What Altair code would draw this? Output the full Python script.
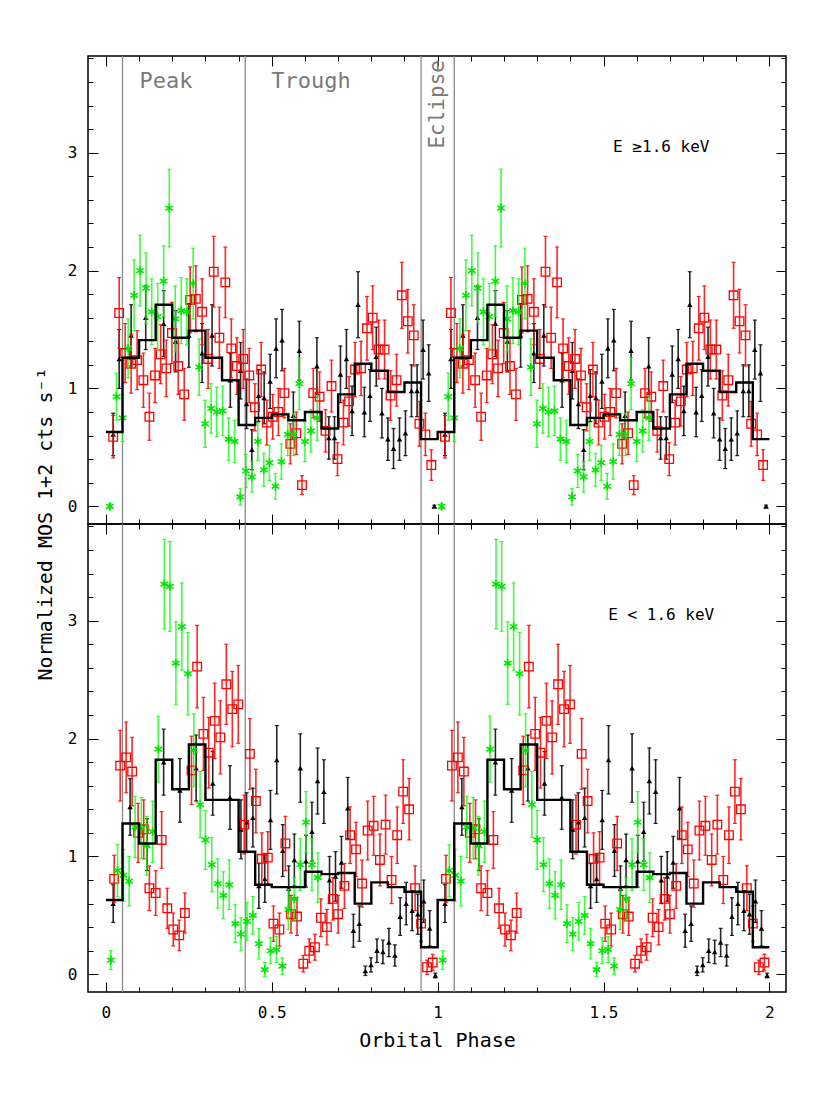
import altair as alt
import numpy as np
import pandas as pd

FONT = "DejaVu Sans Mono"

# ---------------- data (phase 0-1; plotted again at phase + 1) ----------------
# Top panel: E >= 1.6 keV
top_black_phase = [0.022, 0.040, 0.076, 0.120, 0.174, 0.210, 0.250, 0.290, 0.320, 0.375,
                   0.406, 0.424, 0.440, 0.460, 0.477, 0.495, 0.513, 0.531, 0.565, 0.583,
                   0.636, 0.672, 0.689, 0.707, 0.725, 0.742, 0.760, 0.779, 0.796, 0.815,
                   0.832, 0.850, 0.867, 0.885, 0.903, 0.921, 0.938, 0.956, 0.973, 0.990]
top_black_rate = [0.61, 1.25, 1.45, 1.60, 1.55, 1.40, 1.45, 1.30, 1.45, 1.07,
                  1.15, 0.87, 0.48, 0.94, 0.92, 1.06, 1.34, 1.41, 0.77, 1.32,
                  1.19, 0.58, 0.58, 1.12, 1.25, 0.81, 1.71, 0.80, 0.94, 1.27,
                  0.79, 0.57, 0.49, 0.57, 0.62, 0.98, 0.98, 1.33, 1.13, 0.00]
top_black_err = [0.18, 0.25, 0.26, 0.27, 0.28, 0.26, 0.27, 0.25, 0.26, 0.23,
                 0.24, 0.21, 0.17, 0.22, 0.22, 0.23, 0.25, 0.26, 0.20, 0.25,
                 0.24, 0.18, 0.18, 0.24, 0.25, 0.21, 0.28, 0.21, 0.22, 0.25,
                 0.21, 0.18, 0.17, 0.18, 0.19, 0.22, 0.22, 0.25, 0.24, 0.01]

top_red_phase = [0.022, 0.040, 0.058, 0.076, 0.094, 0.113, 0.131, 0.148, 0.165, 0.182,
                 0.199, 0.218, 0.236, 0.254, 0.271, 0.290, 0.308, 0.325, 0.342, 0.360,
                 0.378, 0.395, 0.414, 0.432, 0.449, 0.468, 0.485, 0.503, 0.520, 0.538,
                 0.556, 0.574, 0.591, 0.625, 0.644, 0.662, 0.680, 0.698, 0.716, 0.733,
                 0.751, 0.769, 0.787, 0.804, 0.822, 0.840, 0.858, 0.876, 0.892, 0.910,
                 0.928, 0.945, 0.963, 0.981]
top_red_rate = [0.59, 1.64, 1.30, 1.21, 1.24, 1.07, 0.76, 1.11, 1.29, 1.17,
                1.47, 1.19, 0.95, 1.75, 1.76, 1.65, 1.25, 1.99, 1.43, 1.90,
                1.34, 1.19, 1.25, 1.11, 0.84, 1.16, 0.71, 0.76, 0.80, 0.96,
                0.53, 0.62, 0.18, 0.96, 0.93, 0.64, 1.02, 0.40, 0.71, 0.89,
                1.16, 1.17, 1.51, 1.60, 1.33, 1.33, 0.94, 1.07, 1.79, 1.57,
                1.45, 0.70, 0.61, 0.35]
top_red_err = [0.18, 0.30, 0.25, 0.25, 0.25, 0.23, 0.20, 0.23, 0.25, 0.24,
               0.26, 0.24, 0.22, 0.28, 0.28, 0.28, 0.25, 0.30, 0.26, 0.30,
               0.25, 0.24, 0.25, 0.23, 0.20, 0.23, 0.19, 0.19, 0.20, 0.21,
               0.17, 0.18, 0.08, 0.21, 0.21, 0.18, 0.22, 0.14, 0.19, 0.21,
               0.23, 0.23, 0.27, 0.27, 0.25, 0.25, 0.21, 0.22, 0.28, 0.27,
               0.26, 0.19, 0.18, 0.13]

top_green_phase = [0.012, 0.032, 0.050, 0.067, 0.085, 0.103, 0.121, 0.138, 0.156, 0.174,
                   0.191, 0.209, 0.227, 0.244, 0.263, 0.281, 0.299, 0.317, 0.334, 0.352,
                   0.370, 0.388, 0.405, 0.422, 0.440, 0.458, 0.476, 0.493, 0.511, 0.529,
                   0.548, 0.566, 0.583, 0.600, 0.618, 0.637]
top_green_rate = [0.00, 0.93, 0.75, 1.34, 1.79, 2.00, 1.85, 1.65, 1.61, 1.91,
                  2.53, 1.59, 1.66, 1.65, 1.89, 1.18, 0.70, 0.83, 0.80, 0.81,
                  0.57, 0.55, 0.08, 0.30, 0.25, 0.55, 0.31, 0.37, 0.17, 0.38,
                  0.61, 0.61, 1.04, 0.55, 0.64, 0.75]
top_green_err = [0.02, 0.20, 0.20, 0.25, 0.30, 0.30, 0.30, 0.28, 0.28, 0.30,
                 0.33, 0.28, 0.28, 0.28, 0.30, 0.24, 0.20, 0.21, 0.21, 0.21,
                 0.18, 0.18, 0.07, 0.14, 0.13, 0.16, 0.14, 0.15, 0.11, 0.15,
                 0.18, 0.18, 0.22, 0.17, 0.18, 0.19]

# Bottom panel: E < 1.6 keV
bot_black_phase = [0.022, 0.073, 0.124, 0.174, 0.223, 0.272, 0.322, 0.374,
                   0.407, 0.424, 0.443, 0.461, 0.479, 0.496, 0.515, 0.533, 0.551, 0.568,
                   0.586, 0.603, 0.621, 0.638, 0.657, 0.674, 0.692, 0.710, 0.729, 0.746,
                   0.764, 0.782, 0.799, 0.817, 0.835, 0.853, 0.871, 0.887, 0.905, 0.923,
                   0.940, 0.958, 0.976, 0.993]
bot_black_rate = [0.60, 1.42, 1.10, 1.80, 1.56, 1.75, 1.62, 1.50,
                  1.23, 1.29, 1.33, 0.75, 0.81, 1.31, 1.82, 1.05, 0.73, 0.97,
                  1.75, 0.96, 1.21, 1.64, 1.55, 0.80, 0.83, 0.95, 1.41, 0.37,
                  0.43, 0.03, 0.08, 0.20, 0.19, 0.27, 0.16, 0.49, 0.60, 0.54,
                  0.51, 0.62, 0.39, -0.01]
bot_black_err = [0.16, 0.24, 0.22, 0.28, 0.27, 0.28, 0.27, 0.27,
                 0.25, 0.25, 0.25, 0.19, 0.20, 0.25, 0.29, 0.22, 0.19, 0.22,
                 0.29, 0.22, 0.25, 0.28, 0.27, 0.20, 0.21, 0.22, 0.26, 0.14,
                 0.15, 0.04, 0.06, 0.10, 0.10, 0.12, 0.09, 0.16, 0.18, 0.17,
                 0.17, 0.18, 0.15, 0.02]

bot_red_phase = [0.025, 0.043, 0.061, 0.079, 0.097, 0.114, 0.131, 0.150, 0.168, 0.185,
                 0.203, 0.221, 0.238, 0.258, 0.275, 0.294, 0.310, 0.328, 0.345, 0.363,
                 0.381, 0.399, 0.417, 0.434, 0.452, 0.470, 0.488, 0.505, 0.523, 0.541,
                 0.558, 0.576, 0.595, 0.613, 0.630, 0.648, 0.666, 0.684, 0.700, 0.719,
                 0.736, 0.754, 0.772, 0.789, 0.807, 0.826, 0.843, 0.861, 0.878, 0.896,
                 0.914, 0.932, 0.950, 0.968, 0.985]
bot_red_rate = [0.81, 1.77, 1.84, 1.72, 1.20, 1.23, 0.73, 0.69, 1.14, 0.56,
                0.38, 0.33, 0.52, 1.73, 2.61, 2.04, 1.88, 2.15, 2.01, 2.46,
                2.25, 2.29, 1.27, 1.87, 1.47, 0.98, 0.99, 0.43, 0.38, 1.11,
                0.51, 0.49, 0.09, 0.20, 0.23, 0.48, 0.40, 0.64, 0.51, 0.75,
                1.18, 1.06, 0.77, 1.22, 1.26, 0.97, 1.27, 0.80, 1.18, 1.55,
                1.40, 0.73, 0.43, 0.06, 0.10]
bot_red_err = [0.20, 0.30, 0.30, 0.29, 0.25, 0.25, 0.19, 0.19, 0.24, 0.17,
               0.14, 0.13, 0.17, 0.29, 0.35, 0.31, 0.30, 0.32, 0.31, 0.34,
               0.32, 0.33, 0.25, 0.30, 0.27, 0.22, 0.22, 0.15, 0.14, 0.23,
               0.16, 0.16, 0.07, 0.10, 0.11, 0.16, 0.15, 0.18, 0.16, 0.19,
               0.24, 0.23, 0.20, 0.25, 0.25, 0.22, 0.25, 0.20, 0.24, 0.27,
               0.26, 0.19, 0.15, 0.06, 0.07]

bot_green_phase = [0.015, 0.035, 0.053, 0.070, 0.088, 0.107, 0.123, 0.141, 0.158, 0.176,
                   0.193, 0.211, 0.229, 0.247, 0.265, 0.284, 0.300, 0.319, 0.337, 0.354,
                   0.372, 0.390, 0.407, 0.425, 0.443, 0.461, 0.479, 0.496, 0.514, 0.532,
                   0.550, 0.568, 0.586, 0.603, 0.621, 0.639]
bot_green_rate = [0.12, 0.88, 0.84, 0.79, 1.25, 1.24, 1.09, 1.21, 1.91, 3.31,
                  3.29, 2.64, 2.95, 2.55, 1.90, 1.44, 1.14, 0.93, 0.77, 0.67,
                  0.76, 0.43, 0.34, 0.45, 0.50, 0.26, 0.04, 0.20, 0.21, 0.07,
                  0.55, 0.64, 0.93, 1.29, 0.93, 0.82]
bot_green_err = [0.08, 0.22, 0.22, 0.21, 0.26, 0.26, 0.25, 0.26, 0.28, 0.38,
                 0.38, 0.35, 0.37, 0.35, 0.31, 0.28, 0.25, 0.23, 0.21, 0.20,
                 0.21, 0.16, 0.14, 0.16, 0.16, 0.13, 0.06, 0.11, 0.11, 0.07,
                 0.17, 0.18, 0.22, 0.26, 0.22, 0.21]

# Binned average (0.05-wide bins from phase 0 to 1)
top_step = [0.63, 1.26, 1.41, 1.71, 1.43, 1.49, 1.26, 1.07, 0.69, 0.75,
            0.78, 0.73, 0.80, 0.66, 0.95, 1.21, 1.15, 0.97, 1.05, 0.57]
bot_step = [0.63, 1.28, 1.11, 1.82, 1.57, 1.95, 1.48, 1.48, 1.04, 0.76,
            0.74, 0.74, 0.87, 0.85, 0.86, 0.60, 0.78, 0.74, 0.70, 0.23]
bin_width = 0.05

region_lines = [0.05, 0.42, 0.95, 1.05]
region_names = ["Peak", "Trough", "Eclipse"]

x_major = [0, 0.5, 1, 1.5, 2]
x_minor = [round(0.1 * i, 1) for i in range(21)]
y_major = [0, 1, 2, 3]
y_minor = [round(0.2 * i, 1) for i in range(20)]

top_label = "E \u22651.6 keV"
bot_label = "E < 1.6 keV"
y_title = "Normalized MOS 1+2 cts s\u207b\u00b9"
x_title = "Orbital Phase"

# ---------------- helpers ----------------
W, H = 698, 468
XS = alt.Scale(domain=[-0.054, 2.05], nice=False, zero=False)
YS = alt.Scale(domain=[-0.15, 3.82], nice=False, zero=False)

STAR = "M0,-1L0,1M-0.866,-0.5L0.866,0.5M-0.866,0.5L0.866,-0.5"


def series(phase, rate, err):
    p = np.asarray(phase, float)
    r = np.asarray(rate, float)
    e = np.asarray(err, float)
    ph = np.concatenate([p, p + 1])
    rr = np.concatenate([r, r])
    ee = np.concatenate([e, e])
    return pd.DataFrame({"phase": ph, "rate": rr, "lo": rr - ee, "hi": rr + ee})


def steps(vals):
    v = list(vals) + list(vals)
    edges = [round(i * bin_width, 3) for i in range(len(v) + 1)]
    return pd.DataFrame({"phase": edges, "rate": v + [v[-1]]})


X_TEST = "abs(datum.value * 2 - round(datum.value * 2)) < 0.001"
Y_TEST = "abs(datum.value - round(datum.value)) < 0.001"


def tick_axis(orient, offset, values, test):
    return alt.Axis(orient=orient, offset=offset, values=values, labels=False,
                    domain=False, grid=False, title=None, tickColor="black",
                    tickWidth=1,
                    tickSize={"condition": {"test": test, "value": 10}, "value": 5})


def panel(black, red, green, step_vals, bottom, label, extra_text):
    if bottom:
        x_main = alt.Axis(orient="bottom", values=x_major, format="~g", ticks=False,
                          tickSize=0, domain=False, grid=False, labelFont=FONT,
                          labelFontSize=16, labelPadding=12, labelColor="black",
                          title=x_title, titleFont=FONT, titleFontSize=20,
                          titleFontWeight="normal", titleColor="black", titlePadding=10)
    else:
        x_main = None
    y_main = alt.Axis(orient="left", values=y_major, ticks=False, tickSize=0,
                      domain=False, grid=False, labelFont=FONT, labelFontSize=16,
                      labelPadding=11, labelColor="black", title=None)

    vl = alt.Chart(pd.DataFrame({"phase": region_lines})).mark_rule(
        color="#8a8a8a", strokeWidth=1.3).encode(x=alt.X("phase:Q", scale=XS, axis=None))

    def err_layer(df, color, xa, ya, op):
        return alt.Chart(df).mark_rule(color=color, strokeWidth=1.6, opacity=op).encode(
            x=alt.X("phase:Q", scale=XS, axis=xa),
            y=alt.Y("lo:Q", scale=YS, axis=ya),
            y2="hi:Q")

    def cap_layers(df, color, op):
        out = []
        for f in ("lo", "hi"):
            out.append(alt.Chart(df).mark_tick(color=color, orient="horizontal", size=4,
                                               thickness=1.2, opacity=op).encode(
                x=alt.X("phase:Q", scale=XS, axis=None),
                y=alt.Y(f + ":Q", scale=YS, axis=None)))
        return out

    b_err = err_layer(black, "black", x_main, y_main, 0.85)
    b_pts = alt.Chart(black).mark_point(shape="triangle-up", filled=True, size=30,
                                        color="black", opacity=1).encode(
        x=alt.X("phase:Q", scale=XS, axis=tick_axis("top", -H, x_minor, X_TEST)),
        y=alt.Y("rate:Q", scale=YS, axis=tick_axis("right", -W, y_minor, Y_TEST)))
    r_err = err_layer(red, "#ff0000", tick_axis("bottom", -H, x_minor, X_TEST),
                      tick_axis("left", -W, y_minor, Y_TEST), 0.85)
    r_pts = alt.Chart(red).mark_point(shape="square", filled=False, size=74,
                                      color="#ff0000", strokeWidth=1.3, opacity=1).encode(
        x=alt.X("phase:Q", scale=XS, axis=None),
        y=alt.Y("rate:Q", scale=YS, axis=None))
    g_err = err_layer(green, "#00ff00", None, None, 0.75)
    g_pts = alt.Chart(green).mark_point(shape=STAR, filled=False, size=75,
                                        color="#00e600", strokeWidth=1.6, opacity=1).encode(
        x=alt.X("phase:Q", scale=XS, axis=None),
        y=alt.Y("rate:Q", scale=YS, axis=None))
    st = alt.Chart(steps(step_vals)).mark_line(interpolate="step-after", color="black",
                                               strokeWidth=2.4).encode(
        x=alt.X("phase:Q", scale=XS, axis=None),
        y=alt.Y("rate:Q", scale=YS, axis=None))

    lab = alt.Chart(pd.DataFrame({"t": [label]})).mark_text(
        font=FONT, fontSize=16, color="black", align="center", baseline="middle").encode(
        x=alt.XDatum(1.674, type="quantitative", scale=XS, axis=None),
        y=alt.YDatum(3.05, type="quantitative", scale=YS, axis=None),
        text="t:N")

    layers = [vl, b_err] + cap_layers(black, "black", 0.85) + [b_pts, r_err] + \
        cap_layers(red, "#ff0000", 0.85) + [r_pts, g_err] + \
        cap_layers(green, "#00ff00", 0.75) + [g_pts, st, lab] + extra_text
    return alt.layer(*layers).resolve_axis(x="independent", y="independent").properties(
        width=W, height=H)


# region labels (top panel)
peak = alt.Chart(pd.DataFrame({"t": [region_names[0]]})).mark_text(
    font=FONT, fontSize=22, color="#7a7a7a", baseline="middle").encode(
    x=alt.XDatum(0.181, type="quantitative", scale=XS, axis=None),
    y=alt.YDatum(3.61, type="quantitative", scale=YS, axis=None), text="t:N")
trough = alt.Chart(pd.DataFrame({"t": [region_names[1]]})).mark_text(
    font=FONT, fontSize=22, color="#7a7a7a", baseline="middle").encode(
    x=alt.XDatum(0.618, type="quantitative", scale=XS, axis=None),
    y=alt.YDatum(3.61, type="quantitative", scale=YS, axis=None), text="t:N")
eclipse = alt.Chart(pd.DataFrame({"t": [region_names[2]]})).mark_text(
    font=FONT, fontSize=21, color="#7a7a7a", baseline="middle", angle=270).encode(
    x=alt.XDatum(1.0, type="quantitative", scale=XS, axis=None),
    y=alt.YDatum(3.41, type="quantitative", scale=YS, axis=None), text="t:N")
ytitle = alt.Chart(pd.DataFrame({"t": [y_title]})).mark_text(
    font=FONT, fontSize=20, color="black", baseline="middle", angle=270).encode(
    x=alt.value(-42), y=alt.value(0), text="t:N")

top = panel(series(top_black_phase, top_black_rate, top_black_err),
            series(top_red_phase, top_red_rate, top_red_err),
            series(top_green_phase, top_green_rate, top_green_err),
            top_step, False, top_label, [peak, trough, eclipse])
bot = panel(series(bot_black_phase, bot_black_rate, bot_black_err),
            series(bot_red_phase, bot_red_rate, bot_red_err),
            series(bot_green_phase, bot_green_rate, bot_green_err),
            bot_step, True, bot_label, [ytitle])

chart = alt.vconcat(top, bot, spacing=0, bounds="flush").resolve_scale(
    x="independent", y="independent").properties(
    padding={"left": 27, "top": 46, "right": 5, "bottom": 5},
    autosize=alt.AutoSizeParams(type="pad"),
    background="white",
).configure_view(stroke="black", strokeWidth=1.5)

chart.save("out.html", embed_options={"renderer": "svg", "actions": False})
